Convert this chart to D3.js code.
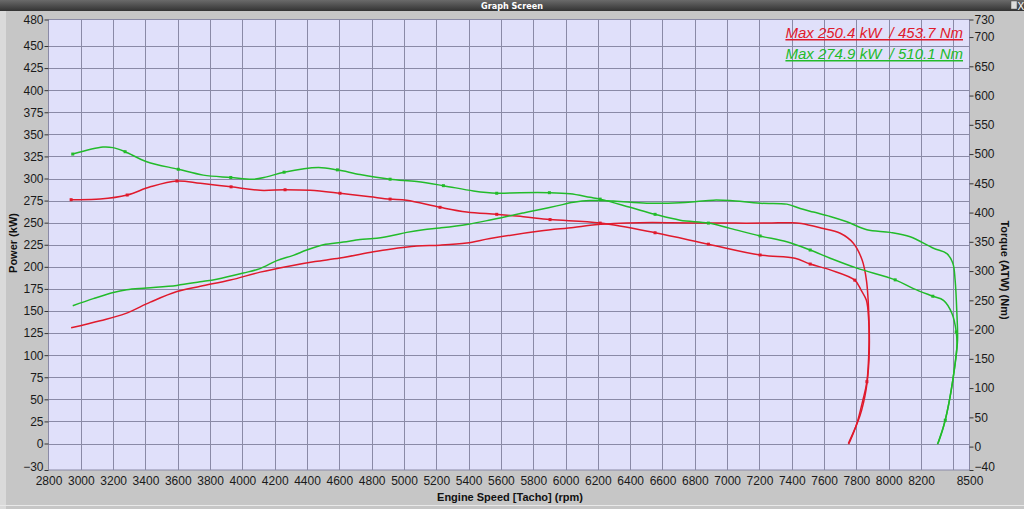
<!DOCTYPE html>
<html><head><meta charset="utf-8">
<script src="https://cdn.jsdelivr.net/npm/d3@7"></script>
<style>
html,body{margin:0;padding:0;background:#c6c6c6;}
svg{display:block;font-family:"Liberation Sans",Arial,sans-serif;}
</style></head>
<body>
<script>
// ---- data ----
const rpmTicks = [2800,3000,3200,3400,3600,3800,4000,4200,4400,4600,4800,5000,5200,5400,5600,5800,6000,6200,6400,6600,6800,7000,7200,7400,7600,7800,8000,8200,8500];
const rpmGrid = [3000,3200,3400,3600,3800,4000,4200,4400,4600,4800,5000,5200,5400,5600,5800,6000,6200,6400,6600,6800,7000,7200,7400,7600,7800,8000,8200,8400];
const powerTicks = [-30,0,25,50,75,100,125,150,175,200,225,250,275,300,325,350,375,400,425,450,480];
const torqueTicks = [-40,0,50,100,150,200,250,300,350,400,450,500,550,600,650,700,730];
const legendLabels = ["Max 250.4 kW  / 453.7 Nm", "Max 274.9 kW  / 510.1 Nm"];

// [rpm, kW]
const redPower = [[2940,131],[3120,139],[3275,147],[3430,160],[3595,172],[3740,178],[3925,185],[4110,194],[4295,201],[4450,206],[4604,210],[4811,217],[4914,220],[5079,223.5],[5223,224.5],[5388,227],[5533,232],[5842,240.5],[6049,244.5],[6152,247],[6300,249],[6460,250],[6650,250],[6850,249.5],[7050,249.5],[7250,249.5],[7400,250],[7460,249],[7580,244],[7700,238],[7780,227],[7835,208],[7862,185],[7878,140],[7878,95],[7860,61],[7823,32],[7750,0]];
// [rpm, Nm, marker]
const redTorque = [[2940,422,1],[3120,423],[3287,430,1],[3430,444],[3595,454,1],[3740,450],[3930,444,1],[4110,438],[4264,439,1],[4420,438],[4604,433,1],[4790,427],[4914,423,1],[5017,421],[5223,409,1],[5388,401],[5574,397,1],[5739,393],[5904,388,1],[6214,382,1],[6554,365.5,1],[6884,346,1],[7204,327.5,1],[7420,322],[7514,312,1],[7638,302],[7790,284.5,1],[7830,267],[7862,250],[7876,216],[7878,174],[7865,111,1],[7840,79.5],[7800,37],[7752,4]];
const greenPower = [[2950,156],[3077,164],[3201,171],[3284,174],[3408,176],[3594,179],[3738,183],[3841,186],[4006,193],[4109,198],[4213,207],[4315,213],[4398,219],[4501,225],[4625,228],[4728,231],[4811,232],[4914,235],[5017,239],[5120,242],[5223,244],[5389,248],[5533,253],[5636,257],[5739,261],[5842,265],[5946,269],[6049,273],[6152,275],[6296,274.5],[6503,272],[6709,272.5],[6812,274],[6915,275.5],[7018,275],[7204,272],[7369,271],[7452,266],[7534,262],[7638,257],[7741,251],[7865,242],[8009,239],[8133,234],[8277,221],[8360,215],[8397,204],[8411,185],[8422,147],[8426,117],[8411,91],[8380,53],[8339,19],[8305,0]];
const greenTorque = [[2950,500,1],[3137,512],[3199,511],[3274,504,1],[3408,487],[3603,474,1],[3758,464],[3928,460,1],[4068,457],[4150,461],[4258,469,1],[4470,477],[4588,473,1],[4728,465],[4914,457,1],[5079,453],[5244,446,1],[5430,437],[5574,433,1],[5718,434],[5900,434,1],[6028,432],[6152,426],[6214,423,1],[6400,409],[6554,397,1],[6709,387],[6884,382,1],[7018,373],[7204,360,1],[7369,350],[7514,336,1],[7638,322],[7803,305],[8040,285,1],[8153,270],[8273,257,1],[8339,250],[8391,228],[8418,196,1],[8422,171],[8397,114],[8350,45,1],[8302,4]];

// ---- layout ----
const W = 1024, H = 509;
const L = 48.5, R = 969.5, T = 19.5, B = 470;
const red = "#e01a2c", green = "#22bb2a";

const svg = d3.select("body").append("svg").attr("width", W).attr("height", H);

// window background
svg.append("rect").attr("x",0).attr("y",0).attr("width",W).attr("height",H).attr("fill","#c6c6c6");
svg.append("rect").attr("x",0).attr("y",11).attr("width",6).attr("height",H-11).attr("fill","#dadada");
svg.append("line").attr("x1",0).attr("x2",W).attr("y1",H-3.5).attr("y2",H-3.5).attr("stroke","#e8e8e8").attr("stroke-width",1);

// title bar
const defs = svg.append("defs");
const grad = defs.append("linearGradient").attr("id","tb").attr("x1",0).attr("x2",0).attr("y1",0).attr("y2",1);
grad.append("stop").attr("offset","0%").attr("stop-color","#6a6a6a");
grad.append("stop").attr("offset","100%").attr("stop-color","#333");
svg.append("rect").attr("x",0).attr("y",0).attr("width",W).attr("height",11).attr("fill","url(#tb)");
svg.append("text").attr("x",512).attr("y",9).attr("text-anchor","middle").attr("fill","#fff")
  .style("font-size","9px").style("font-weight","bold").style("font-family","'Liberation Sans Narrow','DejaVu Sans Condensed',sans-serif").text("Graph Screen");
svg.append("rect").attr("x",1011).attr("y",1).attr("width",6).attr("height",8).attr("fill","#ddd").attr("stroke","#555").attr("stroke-width",0.5);
svg.append("text").attr("x",1017.5).attr("y",9.5).attr("fill","#fff").style("font-size","10px").text("X");

// scales
const x = d3.scaleLinear().domain([2800,8500]).range([L,R]);
const yP = d3.scaleLinear().domain([-30,480]).range([B,T]);
const yT = d3.scaleLinear().domain([-40,730]).range([B,T]);

// plot area
svg.append("rect").attr("x",L).attr("y",T).attr("width",R-L).attr("height",B-T).attr("fill","#e0e0fa");

// grid
const grid = svg.append("g").attr("stroke","#8a8aa6").attr("stroke-width",1);
grid.selectAll("line.v").data(rpmGrid).join("line")
  .attr("x1",d=>Math.round(x(d))+0.5).attr("x2",d=>Math.round(x(d))+0.5).attr("y1",T).attr("y2",B);
grid.selectAll("line.h").data(powerTicks.filter(d=>d>-30 && d<480)).join("line")
  .attr("y1",d=>Math.round(yP(d))+0.5).attr("y2",d=>Math.round(yP(d))+0.5).attr("x1",L).attr("x2",R);
svg.append("rect").attr("x",L).attr("y",T).attr("width",R-L).attr("height",B-T)
  .attr("fill","none").attr("stroke","#8a8aa6").attr("stroke-width",1);

// axes
const tickFont = "12px";
const axL = svg.append("g").attr("transform",`translate(${L},0)`)
  .call(d3.axisLeft(yP).tickValues(powerTicks).tickSize(4).tickPadding(1).tickFormat(d3.format("d")));
const axR = svg.append("g").attr("transform",`translate(${R},0)`)
  .call(d3.axisRight(yT).tickValues(torqueTicks).tickSize(4).tickPadding(1).tickFormat(d3.format("d")));
const axB = svg.append("g").attr("transform",`translate(0,${B})`)
  .call(d3.axisBottom(x).tickValues(rpmTicks).tickSize(2).tickPadding(1).tickFormat(d3.format("d")));
[axL,axR,axB].forEach(a=>{
  a.select(".domain").remove();
  a.selectAll("line").attr("stroke","#333");
  a.selectAll("text").attr("fill","#1a1a1a").style("font-size",tickFont).style("font-family","'Liberation Sans',Arial,sans-serif");
});
axB.selectAll(".tick line").remove();
axB.selectAll("text").attr("dy","1.0em");
// lowest labels sit slightly higher, like the reference
axL.selectAll(".tick").filter(d=>d===-30).select("text").attr("dy","0.05em");
axR.selectAll(".tick").filter(d=>d===-40).select("text").attr("dy","0.05em");

// axis titles
svg.append("text").attr("transform",`translate(17,243) rotate(-90)`).attr("text-anchor","middle")
  .style("font-size","11px").style("font-weight","bold").attr("fill","#111").text("Power (kW)");
svg.append("text").attr("transform",`translate(1001,270) rotate(90)`).attr("text-anchor","middle")
  .style("font-size","11px").style("font-weight","bold").attr("fill","#111").text("Torque (ATW) (Nm)");
svg.append("text").attr("x",510).attr("y",501).attr("text-anchor","middle")
  .style("font-size","11px").style("font-weight","bold").attr("fill","#111").text("Engine Speed [Tacho] (rpm)");

// curves
const clip = defs.append("clipPath").attr("id","pc");
clip.append("rect").attr("x",L).attr("y",T).attr("width",R-L).attr("height",B-T);
const plot = svg.append("g").attr("clip-path","url(#pc)");
const lineP = d3.line().x(d=>x(d[0])).y(d=>yP(d[1])).curve(d3.curveCatmullRom.alpha(0.5));
const lineT = d3.line().x(d=>x(d[0])).y(d=>yT(d[1])).curve(d3.curveCatmullRom.alpha(0.5));
const series = [
  {d:redPower, l:lineP, y:yP, c:red},
  {d:redTorque, l:lineT, y:yT, c:red},
  {d:greenPower, l:lineP, y:yP, c:green},
  {d:greenTorque, l:lineT, y:yT, c:green}
];
series.forEach(s=>{
  plot.append("path").attr("d",s.l(s.d)).attr("fill","none").attr("stroke",s.c).attr("stroke-width",1.5);
  plot.selectAll(null).data(s.d.filter(p=>p[2])).join("rect")
    .attr("x",p=>x(p[0])-1.5).attr("y",p=>s.y(p[1])-1.5).attr("width",3).attr("height",3).attr("fill",s.c);
});

// legend
const lg = svg.append("g");
legendLabels.forEach((t,i)=>{
  lg.append("text").attr("x",963).attr("y",38+i*21).attr("text-anchor","end")
    .attr("fill", i===0?red:green).style("font-size","15px").style("font-style","italic")
    .style("white-space","pre").attr("xml:space","preserve")
    .style("text-decoration","underline").text(t);
});
</script>
</body></html>
